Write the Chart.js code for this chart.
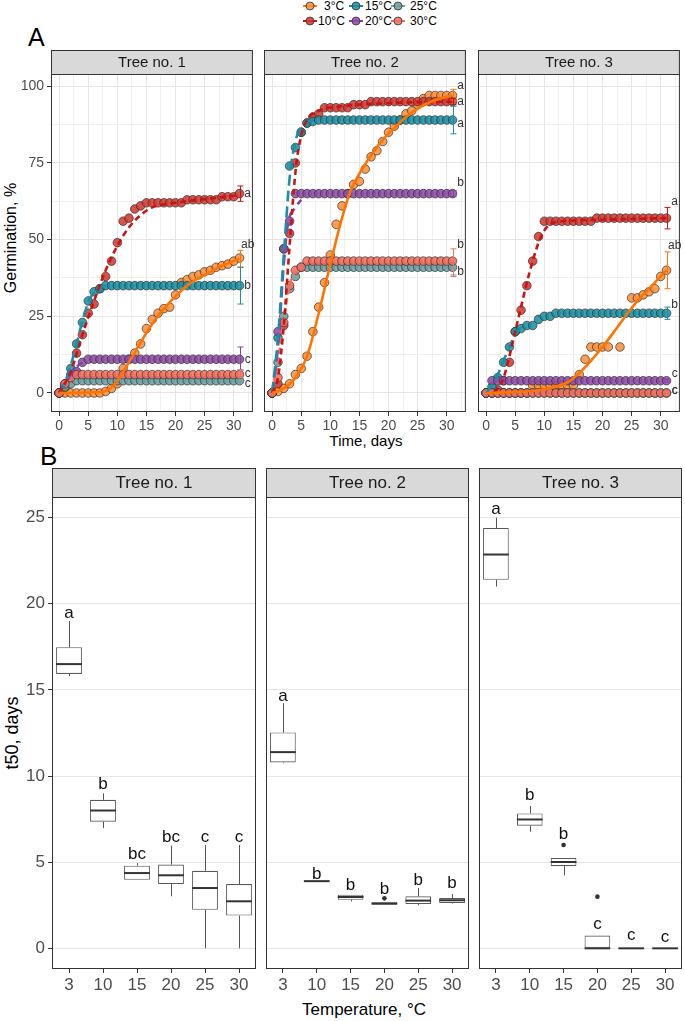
<!DOCTYPE html>
<html>
<head>
<meta charset="utf-8">
<title>Germination and t50 by temperature</title>
<script src="https://cdn.jsdelivr.net/npm/chart.js@4.4.1/dist/chart.umd.min.js"></script>
<style>
  body { margin: 0; background: #fff; font-family: 'Liberation Sans', Arial, sans-serif; }
  #fig { position: relative; width: 685px; height: 1021px; overflow: hidden; }
  #fig canvas { position: absolute; }
  .txt { position: absolute; white-space: nowrap; color: #000; line-height: 1; }
  .rot { transform: translate(-50%, -50%) rotate(-90deg); }
  .ctr { transform: translate(-50%, -50%); }
  .lg { position: absolute; font-size: 12px; line-height: 1; color: #000; white-space: nowrap; transform: translateY(-50%); }
  .key { position: absolute; transform: translate(-50%, -50%); }
</style>
</head>
<body>
<div id="fig">
  <div id="legend"></div>
  <div class="txt" style="left:28px;top:25px;font-size:25px">A</div>
  <div class="txt" style="left:40px;top:443px;font-size:26px">B</div>
  <div class="txt rot" style="left:11px;top:238px;font-size:16px">Germination, %</div>
  <div class="txt ctr" style="left:366px;top:440px;font-size:15px">Time, days</div>
  <div class="txt rot" style="left:12px;top:733px;font-size:18px">t50, days</div>
  <div class="txt ctr" style="left:364px;top:1009px;font-size:17px">Temperature, °C</div>
  <canvas id="g1" width="258" height="400" style="left:0;top:45px"></canvas>
  <canvas id="g2" width="213" height="400" style="left:258px;top:45px"></canvas>
  <canvas id="g3" width="214" height="400" style="left:471px;top:45px"></canvas>
  <canvas id="t1" width="259" height="540" style="left:0;top:462px"></canvas>
  <canvas id="t2" width="213" height="540" style="left:259px;top:462px"></canvas>
  <canvas id="t3" width="213" height="540" style="left:472px;top:462px"></canvas>
</div>
<script>
const fam = "'Liberation Sans', Arial, Helvetica, sans-serif";
Chart.defaults.font.family = fam;

// ---------- A: germination (%) by day, one array per temperature ----------
const tempNames = ['3°C', '10°C', '15°C', '20°C', '25°C', '30°C'];
const days = [0,1,2,3,4,5,6,7,8,9,10,11,12,13,14,15,16,17,18,19,20,21,22,23,24,25,26,27,28,29,30,31];
const dayTicks = [0,2.5,5,7.5,10,12.5,15,17.5,20,22.5,25,27.5,30,32.5];
const germTicks = [0,12.5,25,37.5,50,62.5,75,87.5,100];

// tree no. 1
const t1_3C  = [0,0,0,0,0,0,0,0,0.5,1.5,3,8,11,13,16,21,24,26,27.5,28,32,36,37,38,38.5,39.5,40,41,41.5,42,43,44];
const t1_10C = [0,2,6,13,19,26,29,34,38,43,49,56,57,60,61,62,62,62,62,62,62,62,63,63,63,63,63,63,64,64,64,65];
const t1_15C = [0,3,8,16,23,30,33,34,35,35,35,35,35,35,35,35,35,35,35,35,35,35,35,35,35,35,35,35,35,35,35,35];
const t1_20C = [0,2,5,7,10,11,11,11,11,11,11,11,11,11,11,11,11,11,11,11,11,11,11,11,11,11,11,11,11,11,11,11];
const t1_25C = [0,2,3,4,4,4,4,4,4,4,4,4,4,4,4,4,4,4,4,4,4,4,4,4,4,4,4,4,4,4,4,4];
const t1_30C = [0,3,5,6,6,6,6,6,6,6,6,6,6,6,6,6,6,6,6,6,6,6,6,6,6,6,6,6,6,6,6,6];
// tree no. 2
const t2_3C  = [0,0.5,1.5,3,6,8,12,20,28,36,45,55,61,65,68,69,73,77,79,82,85,87,89,91,92,94,96,97,97,97,97,97];
const t2_10C = [0,3,22,52,75,85,88,90,91,93,93,93,93,93,94,94,94,95,95,95,95,95,95,95,95,95,95,95,95,95,95,95];
const t2_15C = [0,18,47,74,80,85,88,88.5,89,89,89,89,89,89,89,89,89,89,89,89,89,89,89,89,89,89,89,89,89,89,89,89];
const t2_20C = [0,20,47,56,65,65,65,65,65,65,65,65,65,65,65,65,65,65,65,65,65,65,65,65,65,65,65,65,65,65,65,65];
const t2_25C = [0,10,25,34,38,41,41,41,41,41,41,41,41,41,41,41,41,41,41,41,41,41,41,41,41,41,41,41,41,41,41,41];
const t2_30C = [0,5,23,35,40,41,43,43,43,43,43,43,43,43,43,43,43,43,43,43,43,43,43,43,43,43,43,43,43,43,43,43];
// tree no. 3
const t3_3C  = [0,0,0,0,0,0,0,0,2.5,2.5,2.5,2.5,2.5,2.5,2.5,2.5,6,11,15,15,15,15,null,15,null,31,31,32,33,34,38,40];
const t3_10C = [0,0,1,4,10,20,27,35,43,51,56,56,56,56,56,56,56,56,56,57,57,57,57,57,57,57,57,57,57,57,57,57];
const t3_15C = [0,2,5,10,15,20,21,22,22,24,25,25,26,26,26,26,26,26,26,26,26,26,26,26,26,26,26,26,26,26,26,26];
const t3_20C = [0,4,4,4,4,4,4,4,4,4,4,4,4,4,4,4,4,4,4,4,4,4,4,4,4,4,4,4,4,4,4,4];
const t3_25C = [0,0,0,0,0,0,0,0,0,0,0,0,0,0,0,0,0,0,0,0,0,0,0,0,0,0,0,0,0,0,0,0];
const t3_30C = [0,0,0,0,0,0,0,0,0,0,0,0,0,0,0,0,0,0,0,0,0,0,0,0,0,0,0,0,0,0,0,0];

// fitted curves (day, %)
const fit1_3x  = [0,7,9,10,12,14,16,18,20,22,24,26,28,31];
const fit1_3y  = [0,0.3,1.8,4,10,16.5,22.5,27.5,31.5,35,37.5,39.5,41.5,43.8];
const fit1_10x = [0,2,4,6,8,10,12,14,16,20,25,31];
const fit1_10y = [0,7,19,30,40,48,54,58,60.5,62,63.2,64.5];
const fit1_15x = [0,1,2,3,4,5,6,7,8];
const fit1_15y = [0,3.5,9,16,23.5,29.5,33,34.5,35];
const fit1_20x = [0,1,2,3,4];
const fit1_20y = [0,3,6,8.5,10];
const fit2_3x  = [0,2,4,6,8,10,12,13.5,15,17,19,21.5,23,25.5,28,31];
const fit2_3y  = [0,1.5,5,12,26,42,57,66,71.5,77.5,82.5,87.3,90,93.3,95.5,97];
const fit2_10x = [0,1,2,3,4,5,6,8,12,20,31];
const fit2_10y = [0,5,22,48,72,84,89,92,93.5,94.5,95];
const fit2_15x = [0,1,2,3,4,5,6,7];
const fit2_15y = [0,18,45,70,82,87,88.5,89];
const fit2_20x = [0,1,2,2.7,4,5];
const fit2_20y = [0,15,42,55,60.5,63];
const fit2_30x = [0,1,2,3,4];
const fit2_30y = [0,10,24,35,40];
const fit3_3x  = [0,5,10,14,16,18,20,22,24,26,28,30,31];
const fit3_3y  = [0,0.3,1.2,3.5,6.5,10.5,15,20,25.2,30,34,38,40];
const fit3_10x = [1.5,3,4,5,6,7,8,9,10,11,13,20,31];
const fit3_10y = [0,5,12,20,28,36,43,49,53,55,56,56.5,57];
const fit3_15x = [0,1,2,3,4,5,6];
const fit3_15y = [0,2.5,6,10.5,15,19,21.5];

// error bars at day 31 and significance letters (order 3,10,15,20,25,30 °C)
const err1Lo = [41,62.5,29,7.5,3.5,5],     err1Hi = [46.5,67.5,41,15,4.5,7.5];
const err2Lo = [95.5,94,84.5,64,38,38.5],  err2Hi = [99,96,93.5,66,42.5,47];
const err3Lo = [34,53.5,24,3.5,0,0],       err3Hi = [46,60.5,28,4.5,0,0];
const let1 = ['ab','a','b','c','c','c'], let1Y = [48.5,65,35,11,3,6.4];
const let2 = ['a','a','a','b','b','b'],  let2Y = [100.3,95,87.8,68.5,39.5,48.5];
const let3 = ['ab','a','b','c','c','c'], let3Y = [47.9,62.3,28.7,6.4,0.6,0.6];

// ---------- B: t50 (days) box plots ----------
const tempLabels = ['3','10','15','20','25','30'];
const t50Ticks = [0,5,10,15,20,25];
const b1Low = [15.8,6.98,3.98,3.02,0,0],       b1Q1 = [15.93,7.35,3.98,3.73,2.24,1.9];
const b1Med = [16.5,8.0,4.37,4.24,3.5,2.73],   b1Q3 = [17.48,8.62,4.8,4.86,4.5,3.73];
const b1High = [19.0,9.0,4.95,5.96,6.0,6.0],   b1Out = [[],[],[],[],[],[]];
const b1Let = ['a','b','bc','bc','c','c'],     b1LetY = [19.2,9.25,5.2,6.15,6.15,6.15];
const b2Low = [10.75,3.9,2.72,2.53,2.5,2.6],   b2Q1 = [10.79,3.9,2.82,2.53,2.57,2.63];
const b2Med = [11.39,3.9,2.98,2.6,2.77,2.79],  b2Q3 = [12.53,3.9,3.11,2.67,3.02,2.92];
const b2High = [14.23,3.9,3.11,2.67,3.5,3.15], b2Out = [[],[],[],[2.9],[],[]];
const b2Let = ['a','b','b','b','b','b'],       b2LetY = [14.38,4.05,3.37,3.17,3.66,3.5];
const b3Low = [21.0,6.77,4.23,0,0,0],          b3Q1 = [21.39,7.12,4.77,0,0,0];
const b3Med = [22.86,7.48,5.01,0,0,0],         b3Q3 = [24.4,7.83,5.25,0.74,0,0];
const b3High = [25.0,8.26,5.25,0.74,0,0],      b3Out = [[],[],[6.0],[3.0],[],[]];
const b3Let = ['a','b','b','c','c','c'],       b3LetY = [25.24,8.62,6.32,1.14,0.47,0.36];

// ---------- styles ----------
const fillCol = ['rgba(250,143,58,0.88)','rgba(211,58,51,0.88)','rgba(29,143,163,0.88)',
                 'rgba(142,75,166,0.88)','rgba(109,159,164,0.88)','rgba(244,112,94,0.88)'];
const lineCol = ['#ff7400','#c81414','#1990a3','#8b3fa6','#6d9fa4','#f4705e'];
const dashes = [[], [6,4], [11,5], [11,5], [6,4], [6,4]];
const gridMajor = '#e6e6e6', gridMinor = '#f0f0f0';

// legend (html): [key x, label x, row y] per temperature, 3 columns x 2 rows
const legendPos = [[310,324,6],[310,318,20.5],[356,365,6],[356,365,20.5],[398,410,6],[398,410,20.5]];
document.getElementById('legend').innerHTML = tempNames.map((name, k) => {
  const [kx, tx, y] = legendPos[k];
  return `<svg class="key" style="left:${kx}px;top:${y}px" width="14" height="10">` +
    `<line x1="0" y1="5" x2="14" y2="5" stroke="${lineCol[k]}" stroke-width="2"/>` +
    `<circle cx="7" cy="5" r="4" fill="${fillCol[k]}" stroke="#333" stroke-width="0.8"/></svg>` +
    `<div class="lg" style="left:${tx}px;top:${y}px">${name}</div>`;
}).join('');

// facet strip above the panel + panel border
function facet(title, stripH, size) {
  return {
    id: 'facet',
    beforeDraw(chart) {
      const { ctx, chartArea: a } = chart;
      ctx.save();
      ctx.fillStyle = '#d9d9d9';
      ctx.fillRect(a.left, a.top - stripH, a.right - a.left, stripH);
      ctx.strokeStyle = '#333'; ctx.lineWidth = 1;
      ctx.strokeRect(a.left + 0.5, a.top - stripH + 0.5, a.right - a.left - 1, stripH);
      ctx.fillStyle = '#1a1a1a';
      ctx.font = size + 'px ' + fam;
      ctx.textAlign = 'center'; ctx.textBaseline = 'middle';
      ctx.fillText(title, (a.left + a.right) / 2, a.top - stripH / 2 + 1);
      ctx.restore();
    },
    afterDraw(chart) {
      const { ctx, chartArea: a } = chart;
      ctx.save();
      ctx.strokeStyle = '#333'; ctx.lineWidth = 1;
      ctx.strokeRect(a.left + 0.5, a.top + 0.5, a.right - a.left - 1, a.bottom - a.top - 1);
      ctx.restore();
    }
  };
}

function germChart(id, title, series, fits, errLo, errHi, letters, letterY, first, yW) {
  const datasets = [];
  fits.forEach(f => datasets.push({
    data: f.x.map((x, i) => ({ x, y: f.y[i] })),
    showLine: true, pointRadius: 0, borderColor: lineCol[f.k], borderWidth: 2.6,
    borderDash: dashes[f.k], cubicInterpolationMode: 'monotone', order: 0
  }));
  series.forEach((vals, k) => datasets.push({
    data: days.map((d, i) => ({ x: d, y: vals[i] })).filter(p => p.y !== null),
    pointRadius: 4.3, pointBackgroundColor: fillCol[k],
    pointBorderColor: 'rgba(45,45,45,0.85)', pointBorderWidth: 0.8, order: 6 - k
  }));

  const marks = {
    id: 'marks',
    afterDatasetsDraw(chart) {
      const { ctx } = chart, xs = chart.scales.x, ys = chart.scales.y;
      const xe = Math.round(xs.getPixelForValue(31)) + 0.5, xl = xs.getPixelForValue(32.4);
      ctx.save(); ctx.lineWidth = 1;
      errLo.forEach((lo, k) => {
        const hi = errHi[k];
        if (hi - lo <= 0) return;
        const y1 = ys.getPixelForValue(lo), y2 = ys.getPixelForValue(hi);
        ctx.strokeStyle = lineCol[k];
        ctx.beginPath();
        ctx.moveTo(xe, y1); ctx.lineTo(xe, y2);
        ctx.moveTo(xe - 3, y1); ctx.lineTo(xe + 3, y1);
        ctx.moveTo(xe - 3, y2); ctx.lineTo(xe + 3, y2);
        ctx.stroke();
      });
      ctx.fillStyle = '#333'; ctx.font = '12px ' + fam;
      ctx.textAlign = 'center'; ctx.textBaseline = 'middle';
      letters.forEach((t, k) => ctx.fillText(t, xl, ys.getPixelForValue(letterY[k])));
      ctx.restore();
    }
  };

  new Chart(document.getElementById(id), {
    type: 'scatter',
    data: { datasets },
    options: {
      responsive: false, animation: false, devicePixelRatio: 1, events: [],
      layout: { padding: { top: 29, right: 3, left: 0, bottom: 0 } },
      plugins: { legend: { display: false }, tooltip: { enabled: false } },
      scales: {
        x: {
          type: 'linear', min: -1.4, max: 33.3,
          afterBuildTicks: s => { s.ticks = dayTicks.map(v => ({ value: v })); },
          afterFit: s => { s.height = 33; },
          ticks: { callback: v => (v % 5 === 0 ? String(v) : ''), autoSkip: false, maxRotation: 0,
                   font: { size: 14 }, color: '#4d4d4d', padding: 2 },
          grid: { color: c => (c.tick && c.tick.value % 5 === 0 ? gridMajor : gridMinor),
                  tickColor: c => (c.tick && c.tick.value % 5 === 0 ? '#333' : 'rgba(0,0,0,0)'),
                  tickLength: 4 },
          border: { display: false }
        },
        y: {
          min: -6.2, max: 104,
          afterBuildTicks: s => { s.ticks = germTicks.map(v => ({ value: v })); },
          afterFit: s => { s.width = yW; },
          ticks: { display: first, callback: v => (v % 25 === 0 ? String(v) : ''), autoSkip: false,
                   font: { size: 14 }, color: '#4d4d4d', padding: 3 },
          grid: { color: c => (c.tick && c.tick.value % 25 === 0 ? gridMajor : gridMinor),
                  tickColor: c => (c.tick && c.tick.value % 25 === 0 ? '#333' : 'rgba(0,0,0,0)'),
                  drawTicks: first, tickLength: 4 },
          border: { display: false }
        }
      }
    },
    plugins: [facet(title, 24, 15), marks]
  });
}

function t50Chart(id, title, low, q1, med, q3, high, outl, letters, letterY, first, yW) {
  const boxMarks = {
    id: 'boxMarks',
    afterDatasetsDraw(chart) {
      const { ctx } = chart, ys = chart.scales.y;
      const bars = chart.getDatasetMeta(0).data;
      ctx.save();
      bars.forEach((bar, i) => {
        const x = Math.round(bar.x) + 0.5, hw = bar.width / 2;
        ctx.strokeStyle = '#555'; ctx.lineWidth = 1;
        ctx.beginPath();
        ctx.moveTo(x, ys.getPixelForValue(q3[i])); ctx.lineTo(x, ys.getPixelForValue(high[i]));
        ctx.moveTo(x, ys.getPixelForValue(q1[i])); ctx.lineTo(x, ys.getPixelForValue(low[i]));
        ctx.stroke();
        const ym = ys.getPixelForValue(med[i]);
        ctx.strokeStyle = '#333'; ctx.lineWidth = 2;
        ctx.beginPath(); ctx.moveTo(bar.x - hw, ym); ctx.lineTo(bar.x + hw, ym); ctx.stroke();
        ctx.fillStyle = '#333';
        outl[i].forEach(v => {
          ctx.beginPath(); ctx.arc(bar.x, ys.getPixelForValue(v), 2.3, 0, Math.PI * 2); ctx.fill();
        });
        ctx.fillStyle = '#111'; ctx.font = '17px ' + fam;
        ctx.textAlign = 'center'; ctx.textBaseline = 'alphabetic';
        ctx.fillText(letters[i], bar.x, ys.getPixelForValue(letterY[i]));
      });
      ctx.restore();
    }
  };

  new Chart(document.getElementById(id), {
    type: 'bar',
    data: {
      labels: tempLabels,
      datasets: [{
        data: q1.map((v, i) => [v, q3[i]]),
        backgroundColor: '#fff', borderColor: '#595959', borderWidth: 1.1, borderSkipped: false,
        barPercentage: 0.76, categoryPercentage: 1
      }]
    },
    options: {
      responsive: false, animation: false, devicePixelRatio: 1, events: [],
      layout: { padding: { top: 35, right: 3, left: 0, bottom: 0 } },
      plugins: { legend: { display: false }, tooltip: { enabled: false } },
      scales: {
        x: {
          afterFit: s => { s.height = 33; },
          ticks: { font: { size: 17 }, color: '#4d4d4d', padding: 2, maxRotation: 0, autoSkip: false },
          grid: { offset: false, drawOnChartArea: false, drawTicks: true, tickLength: 4, tickColor: '#333' },
          border: { display: false }
        },
        y: {
          min: -1.2, max: 26.2,
          afterBuildTicks: s => { s.ticks = t50Ticks.map(v => ({ value: v })); },
          afterFit: s => { s.width = yW; },
          ticks: { display: first, font: { size: 17 }, color: '#4d4d4d', padding: 3 },
          grid: { color: gridMajor, drawTicks: first, tickLength: 4, tickColor: '#333' },
          border: { display: false }
        }
      }
    },
    plugins: [facet(title, 29, 17), boxMarks]
  });
}

germChart('g1', 'Tree no. 1', [t1_3C, t1_10C, t1_15C, t1_20C, t1_25C, t1_30C],
  [{ k: 0, x: fit1_3x, y: fit1_3y }, { k: 1, x: fit1_10x, y: fit1_10y },
   { k: 2, x: fit1_15x, y: fit1_15y }, { k: 3, x: fit1_20x, y: fit1_20y }],
  err1Lo, err1Hi, let1, let1Y, true, 51);
germChart('g2', 'Tree no. 2', [t2_3C, t2_10C, t2_15C, t2_20C, t2_25C, t2_30C],
  [{ k: 0, x: fit2_3x, y: fit2_3y }, { k: 1, x: fit2_10x, y: fit2_10y },
   { k: 2, x: fit2_15x, y: fit2_15y }, { k: 3, x: fit2_20x, y: fit2_20y },
   { k: 5, x: fit2_30x, y: fit2_30y }],
  err2Lo, err2Hi, let2, let2Y, false, 6);
germChart('g3', 'Tree no. 3', [t3_3C, t3_10C, t3_15C, t3_20C, t3_25C, t3_30C],
  [{ k: 0, x: fit3_3x, y: fit3_3y }, { k: 1, x: fit3_10x, y: fit3_10y },
   { k: 2, x: fit3_15x, y: fit3_15y }],
  err3Lo, err3Hi, let3, let3Y, false, 7);

t50Chart('t1', 'Tree no. 1', b1Low, b1Q1, b1Med, b1Q3, b1High, b1Out, b1Let, b1LetY, true, 52);
t50Chart('t2', 'Tree no. 2', b2Low, b2Q1, b2Med, b2Q3, b2High, b2Out, b2Let, b2LetY, false, 7);
t50Chart('t3', 'Tree no. 3', b3Low, b3Q1, b3Med, b3Q3, b3High, b3Out, b3Let, b3LetY, false, 7);
</script>
</body>
</html>
